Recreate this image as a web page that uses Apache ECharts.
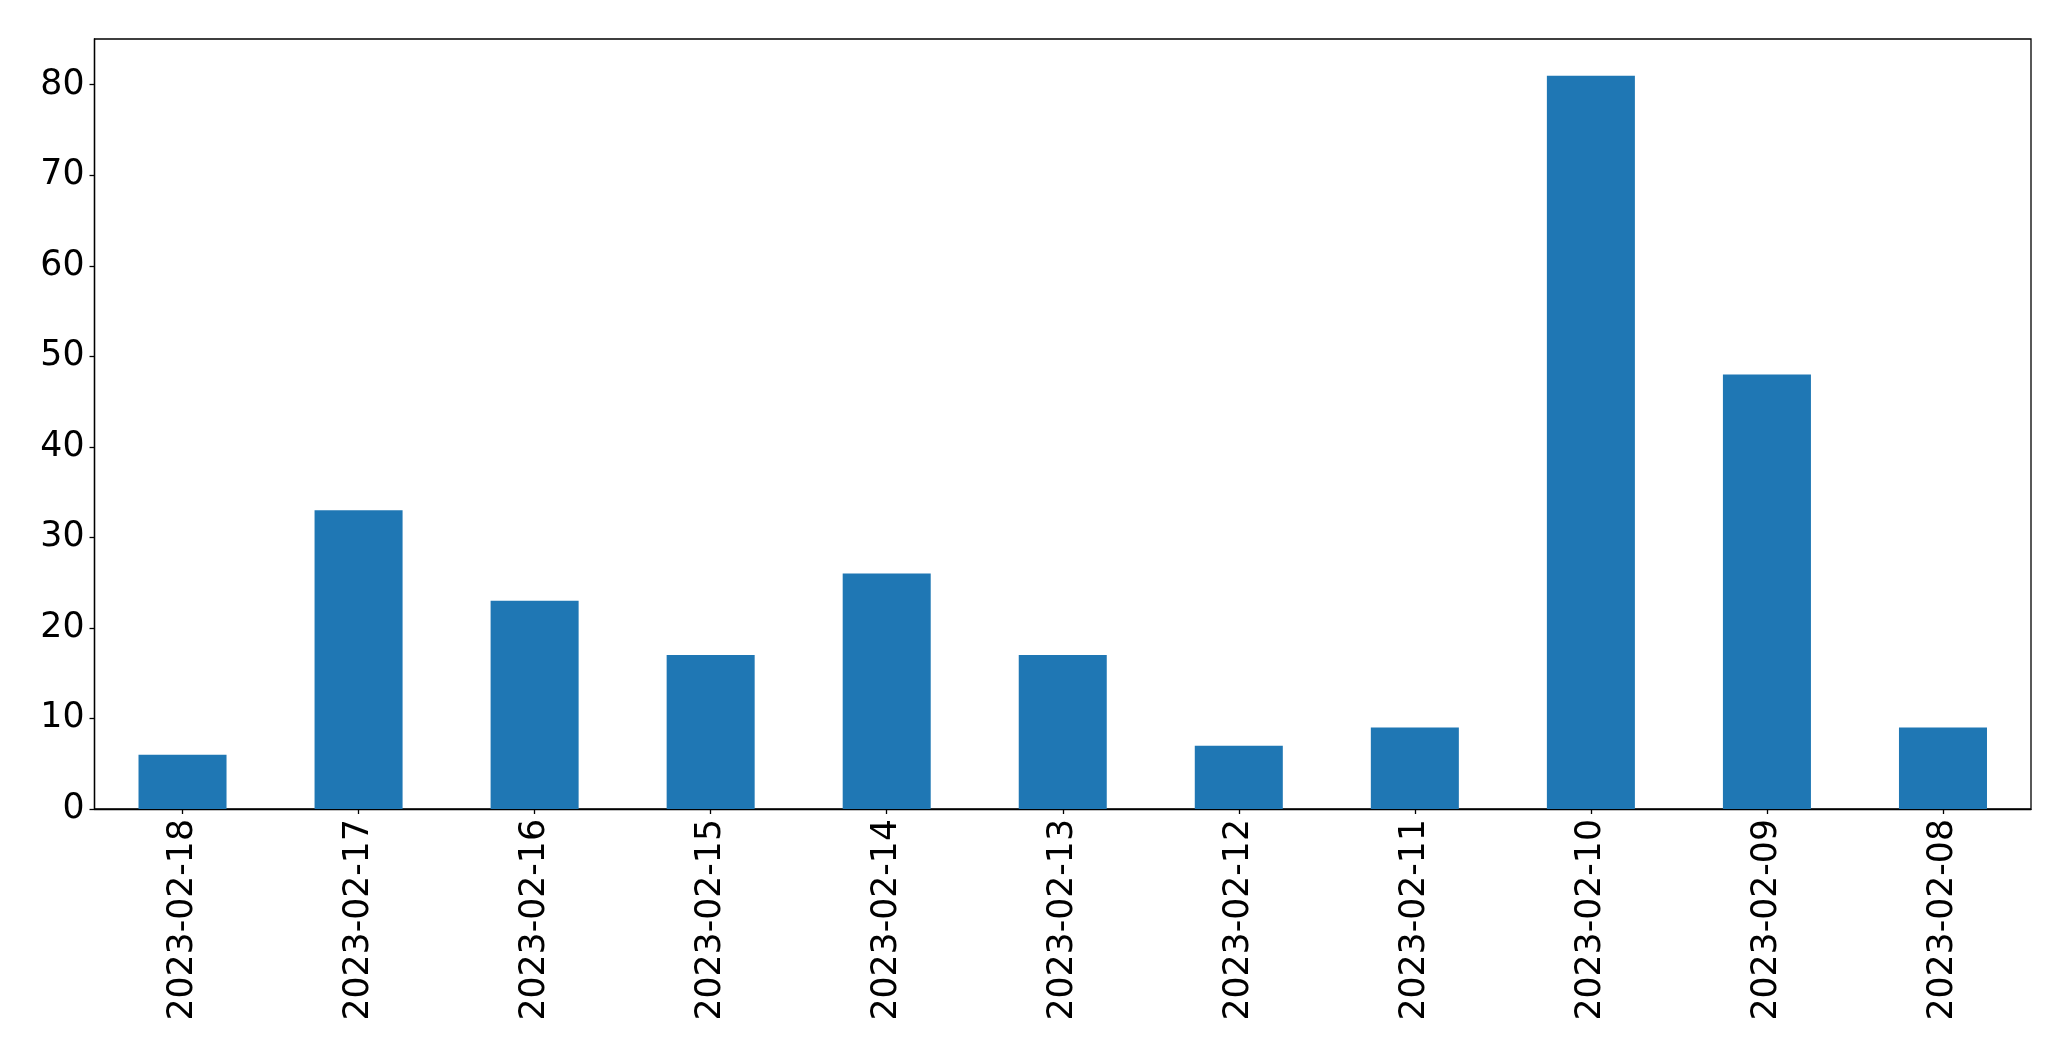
<!DOCTYPE html>
<html><head><meta charset="utf-8">
<script src="https://cdn.jsdelivr.net/npm/echarts@6/dist/echarts.min.js"></script>
<style>html,body{margin:0;padding:0;background:#fff}#c{width:2071px;height:1061px}</style>
</head><body><div id="c"></div>
<script>
const categories = ["2023-02-18","2023-02-17","2023-02-16","2023-02-15","2023-02-14","2023-02-13","2023-02-12","2023-02-11","2023-02-10","2023-02-09","2023-02-08"];
const values = [6, 33, 23, 17, 26, 17, 7, 9, 81, 48, 9];
const yTicks = [0, 10, 20, 30, 40, 50, 60, 70, 80];
const yMax = 85.05;

const chart = echarts.init(document.getElementById('c'), null, {renderer: 'canvas'});
chart.setOption({
  animation: false,
  backgroundColor: '#fff',
  textStyle: {fontFamily: 'DejaVu Sans'},
  grid: {left: 94.5, right: 40, top: 39, bottom: 252, show: true, borderColor: '#000', borderWidth: 1.3, backgroundColor: 'transparent'},
  xAxis: {
    type: 'category', data: categories, boundaryGap: true,
    axisLine: {show: true, lineStyle: {color: '#000', width: 1.3}},
    axisTick: {show: true, alignWithLabel: true, length: 5, lineStyle: {color: '#000', width: 1.3}},
    axisLabel: {rotate: 90, color: '#000', fontSize: 34.7, fontFamily: 'DejaVu Sans', margin: 10, interval: 0}
  },
  yAxis: {
    type: 'value', min: 0, max: yMax,
    splitLine: {show: false},
    axisLine: {show: true, lineStyle: {color: '#000', width: 1.3}},
    axisTick: {show: true, length: 5, lineStyle: {color: '#000', width: 1.3}, customValues: yTicks},
    axisLabel: {color: '#000', fontSize: 34.7, fontFamily: 'DejaVu Sans', margin: 10, customValues: yTicks}
  },
  series: [{
    type: 'bar', data: values, barWidth: '50%',
    itemStyle: {color: '#1f77b4'}
  }]
});
</script></body></html>
